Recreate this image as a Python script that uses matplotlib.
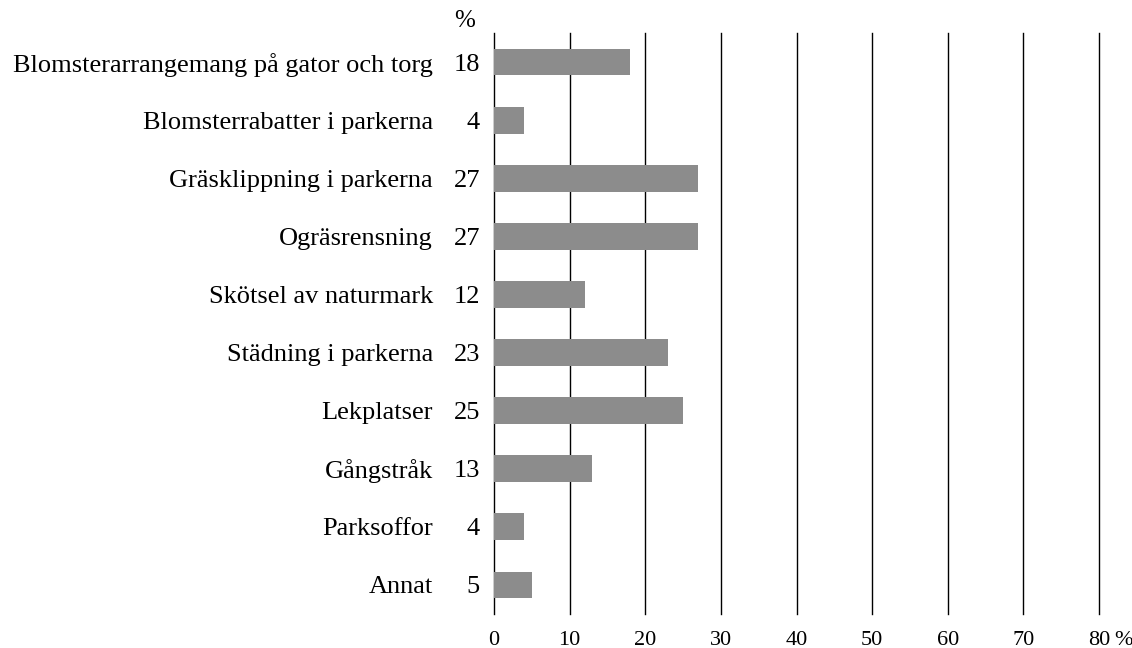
import matplotlib

matplotlib.use("Agg")
import matplotlib.pyplot as plt

plt.rcParams["font.family"] = ["Liberation Serif", "DejaVu Serif"]

categories = [
    "Blomsterarrangemang på gator och torg",
    "Blomsterrabatter i parkerna",
    "Gräsklippning i parkerna",
    "Ogräsrensning",
    "Skötsel av naturmark",
    "Städning i parkerna",
    "Lekplatser",
    "Gångstråk",
    "Parksoffor",
    "Annat",
]
values = [18, 4, 27, 27, 12, 23, 25, 13, 4, 5]
x_ticks = [0, 10, 20, 30, 40, 50, 60, 70, 80]

fig = plt.figure(figsize=(11.32, 6.48), dpi=100)
ax = fig.add_axes([494 / 1132, 1 - 614 / 648, (1099 - 494) / 1132, (614 - 33) / 648])

pos = list(range(len(categories)))
ax.barh(pos, values, height=0.46, color="#8c8c8c", zorder=3)
ax.set_xlim(0, 80)
ax.set_ylim(len(categories) - 0.5, -0.5)

for x in x_ticks[1:]:
    ax.axvline(x, color="black", lw=1.0, zorder=1, clip_on=False)

for s in ["top", "right", "bottom"]:
    ax.spines[s].set_visible(False)
ax.spines["left"].set_color("black")
ax.spines["left"].set_linewidth(1.0)

ax.set_yticks(pos)
ax.set_yticklabels(categories, fontsize=19, va="center_baseline")
ax.tick_params(axis="y", length=0, pad=44)

ax.set_xticks(x_ticks)
ax.set_xticklabels([str(t) for t in x_ticks], fontsize=16)
ax.tick_params(axis="x", length=0, pad=12)
ax.annotate("%", xy=(80, 0), xycoords=("data", "axes fraction"), xytext=(15, -17),
            textcoords="offset pixels", fontsize=16, ha="left", va="top")

for p, v in zip(pos, values):
    ax.annotate(str(v), xy=(0, p), xytext=(-14, 0), textcoords="offset pixels",
                fontsize=19, ha="right", va="center_baseline")

ax.annotate("%", xy=(0, 1), xycoords="axes fraction", xytext=(-29, 12),
            textcoords="offset pixels", fontsize=18, ha="center", va="center")

fig.savefig("out.png", dpi=100)
